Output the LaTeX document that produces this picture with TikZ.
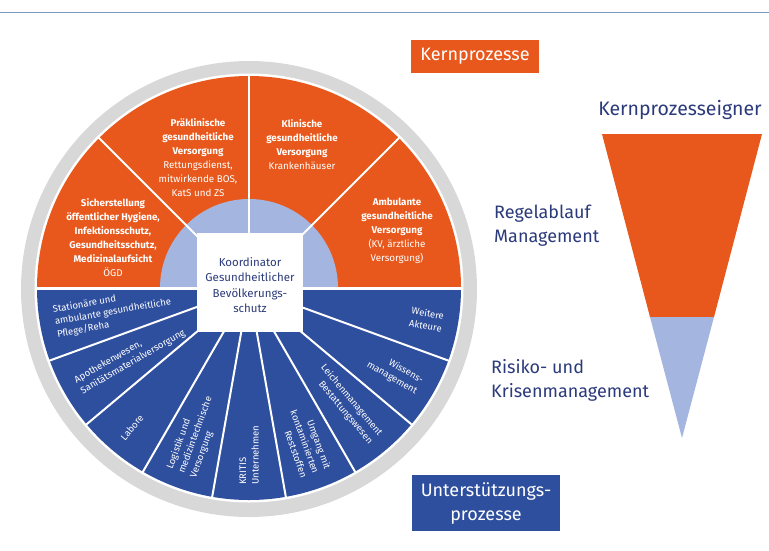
\documentclass[tikz,border=0pt]{standalone}
\usepackage{fontspec}
\usetikzlibrary{calc}
\setmainfont{Fira Sans}
\definecolor{orng}{HTML}{E8581C}
\definecolor{wblue}{HTML}{2E4E9E}
\definecolor{lblue}{HTML}{A4B6DF}
\definecolor{navy}{HTML}{2B3A7A}
\definecolor{ringgrey}{HTML}{D8D8D8}
\definecolor{topline}{HTML}{7D96C4}
\tikzset{
  otext/.style={text=white, align=center, font=\fontsize{9.8}{14}\selectfont, inner sep=0pt},
  btext/.style={text=white, font=\fontsize{9.5}{12.5}\selectfont, inner sep=0pt},
  lbtext/.style={btext, align=left, anchor=west},
  rbtext/.style={btext, align=right, anchor=east},
  rtext/.style={text=navy, align=left, anchor=west, font=\fontsize{18}{24}\selectfont, inner sep=0pt},
  labelbox/.style={text=white, align=center, font=\fontsize{18}{24}\selectfont, inner sep=0pt},
  divider/.style={white, line width=2pt}
}
\begin{document}
\begin{tikzpicture}[x=1pt,y=1pt]
\useasboundingbox (0,0) rectangle (769,-550);
\draw[topline, line width=1.5pt] (0,-12.5) -- (769,-12.5);
\coordinate (C) at (249,-288);
% ring
\fill[ringgrey] (249,-289) circle (228);
\fill[white] (C) circle (214.5);
% halves
\fill[orng] (C) -- ++(0:212) arc (0:180:212) -- cycle;
\fill[wblue] (C) -- ++(180:212) arc (180:360:212) -- cycle;
\fill[lblue] (C) -- ++(0:89) arc (0:180:89) -- cycle;
% dividers
\foreach \a in {45,90,135,200,220,240,260,280,300,320,340}
  \draw[divider] (C) -- ++(\a:213);
\draw[white, line width=3pt] (C) -- ++(0:213);
\draw[white, line width=3pt] (C) -- ++(180:213);
% centre box
\node[fill=white, minimum width=106, minimum height=99, inner sep=0pt] (koord) at (250,-282.5) {};
\node[align=center, text=navy, inner sep=0pt, font=\fontsize{11.5}{15.3}\selectfont] (koordtext) at (250,-285)
  {Koordinator\\Gesundheitlicher\\Bevölkerungs-\\schutz};
% orange texts
\node[otext] (sich) at (113,-238) {\textbf{Sicherstellung}\\\textbf{öffentlicher Hygiene,}\\\textbf{Infektionsschutz,}\\\textbf{Gesundheitsschutz,}\\\textbf{Medizinalaufsicht}\\ÖGD};
\node[otext] (prae) at (198,-158) {\textbf{Präklinische}\\\textbf{gesundheitliche}\\\textbf{Versorgung}\\Rettungsdienst,\\mitwirkende BOS,\\KatS und ZS};
\node[otext] (klin) at (302,-145) {\textbf{Klinische}\\\textbf{gesundheitliche}\\\textbf{Versorgung}\\Krankenhäuser};
\node[otext] (amb) at (397,-231) {\textbf{Ambulante}\\\textbf{gesundheitliche}\\\textbf{Versorgung}\\(KV, ärztliche\\Versorgung)};
% blue texts (anchored at the rim)
\node[lbtext, rotate=10] (stat) at ($(C)+(190:197)$) {Stationäre und\\ambulante gesundheitliche\\Pflege/Reha};
\node[lbtext, rotate=30] (apo) at ($(C)+(210:197)$) {Apothekenwesen,\\Sanitätsmaterialversorgung};
\node[lbtext, rotate=50] (lab) at ($(C)+(230:197)$) {Labore};
\node[lbtext, rotate=70] (log) at ($(C)+(250:197)$) {Logistik und\\medizintechnische\\Versorgung};
\node[lbtext, rotate=90] (krit) at ($(C)+(270:197)$) {KRITIS\\Unternehmen};
\node[rbtext, rotate=-70] (umg) at ($(C)+(290:197)$) {Umgang mit\\kontaminierten\\Reststoffen};
\node[rbtext, rotate=-50] (leich) at ($(C)+(310:197)$) {Leichenmanagement\\Bestattungswesen};
\node[rbtext, rotate=-30] (wiss) at ($(C)+(330:197)$) {Wissens-\\management};
\node[rbtext, rotate=-10] (weit) at ($(C)+(350:197)$) {Weitere\\Akteure};
% right side
\node[labelbox, fill=orng, minimum width=128, minimum height=33] (kern) at (475,-56.5) {Kernprozesse};
\node[text=navy, font=\fontsize{19.5}{24}\selectfont, inner sep=0pt] (eign) at (680,-110) {Kernprozesseigner};
\fill[orng] (602,-134) -- (762,-134) -- (714,-317) -- (650,-317) -- cycle;
\fill[lblue] (650,-317) -- (714,-317) -- (682,-438) -- cycle;
\node[rtext] (regel) at (494,-226) {Regelablauf\\Management};
\node[rtext] (risiko) at (491,-380) {Risiko- und\\Krisenmanagement};
\node[labelbox, fill=wblue, minimum width=148, minimum height=56] (unter) at (486,-503) {Unterstützungs-\\prozesse};
\end{tikzpicture}
\end{document}
